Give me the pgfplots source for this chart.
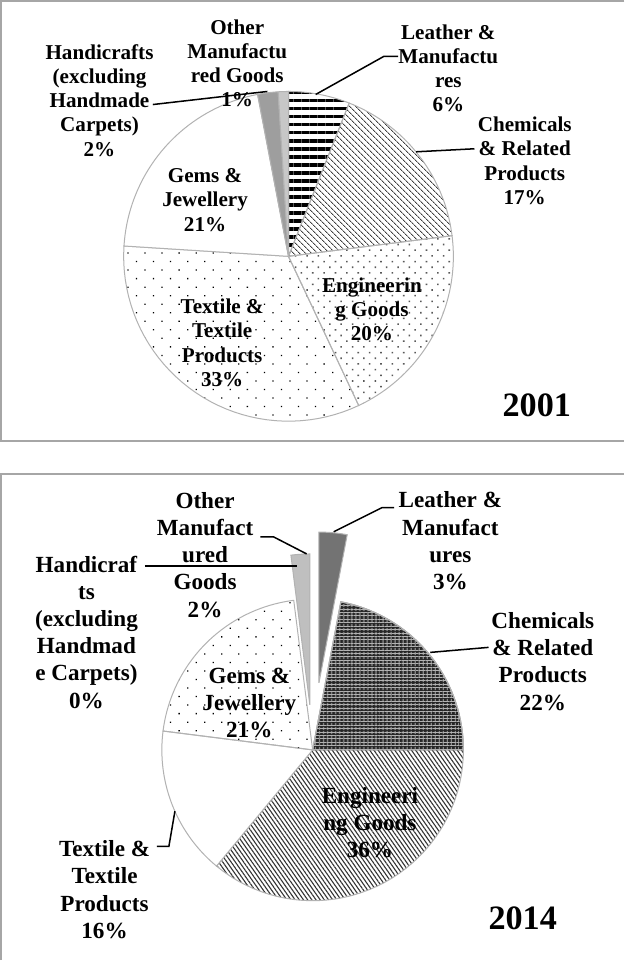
\documentclass[border=0pt]{standalone}
\usepackage{fontspec}
\setmainfont{Liberation Serif}
\usepackage{pgfplots}
\pgfplotsset{compat=1.18}
\usetikzlibrary{patterns,patterns.meta}

% #1 cx, #2 cy, #3 radius, #4 cumulative percent before slice, #5 slice percent, #6 style
\newcommand{\pieslice}[6]{%
  \pgfmathsetmacro\angA{90-3.6*(#4+#5)}%
  \pgfmathsetmacro\angB{90-3.6*(#4)}%
  \addplot[#6, domain=\angA:\angB, samples=41, variable=\t]
    ({#1+#3*cos(\t)},{#2-#3*sin(\t)}) -- (axis cs:#1,#2) -- cycle;}

\tikzset{
  edge/.style={draw=black!30, line width=1pt},
  labA/.style={align=center, font=\fontsize{21}{24}\selectfont\bfseries, inner sep=0pt},
  labB/.style={align=center, font=\fontsize{23}{27}\selectfont\bfseries, inner sep=0pt},
  yr/.style={font=\fontsize{34}{34}\selectfont\bfseries, inner sep=0pt},
  lead/.style={black, line width=1.5pt},
}

\begin{document}
\begin{tikzpicture}
\begin{axis}[
  width=629pt, height=961pt, scale only axis,
  xmin=0, xmax=629, ymin=0, ymax=961, y dir=reverse,
  axis lines=none, clip=false]

% panel borders
\draw[black!35, line width=2pt] (axis cs:629,7) -- (axis cs:9,7) -- (axis cs:9,445) -- (axis cs:629,445);
\draw[black!35, line width=2pt] (axis cs:9,961) -- (axis cs:9,478) -- (axis cs:629,478);

% ---------------- 2001 (shares in %) ----------------
% Leather 6, Chemicals 17, Engineering 20, Textile 33, Gems 21, Handicrafts 2, Other 1
\pieslice{295}{261}{164}{0}{6}{edge, pattern={Lines[angle=0,distance=8pt,line width=3.6pt]}, pattern color=black}
\pieslice{295}{261}{164}{6}{17}{edge, pattern={Lines[angle=-45,distance=4pt,line width=1pt]}, pattern color=black!75}
\pieslice{295}{261}{164}{23}{20}{edge, pattern={Dots[angle=45,distance=8pt,radius=1.1pt]}, pattern color=black!65}
\pieslice{295}{261}{164}{43}{33}{edge, pattern={Dots[angle=45,distance=12pt,radius=0.9pt]}, pattern color=black}
\pieslice{295}{261}{164}{76}{21}{edge, fill=white}
\pieslice{295}{261}{164}{97}{2}{edge, fill=black!38}
\pieslice{295}{261}{164}{99}{1}{edge, fill=black!22}

\node[labA] at (axis cs:244,69) {Other\\Manufactu\\red Goods\\1\%};
\node[labA] at (axis cs:107,106) {Handicrafts\\(excluding\\Handmade\\Carpets)\\2\%};
\node[labA] at (axis cs:454,74) {Leather \&\\Manufactu\\res\\6\%};
\node[labA] at (axis cs:530,166) {Chemicals\\\& Related\\Products\\17\%};
\node[labA] at (axis cs:212,205) {Gems \&\\Jewellery\\21\%};
\node[labA] at (axis cs:378,314) {Engineerin\\g Goods\\20\%};
\node[labA] at (axis cs:229,347) {Textile \&\\Textile\\Products\\33\%};
\node[yr] at (axis cs:542,409) {2001};

\draw[lead] (axis cs:322,100) -- (axis cs:390,62) -- (axis cs:404,62);
\draw[lead] (axis cs:422,157) -- (axis cs:480,154);
\draw[lead] (axis cs:160,110) -- (axis cs:256,99) -- (axis cs:274,97);

% ---------------- 2014 (shares in %) ----------------
% Leather 3, Chemicals 22, Engineering 36, Textile 16, Gems 21, Handicrafts 0, Other 2
\pieslice{325.3}{685.3}{150}{0}{3}{edge, fill=black!55}
\pieslice{319}{752}{150}{3}{22}{edge, fill=black!85}
\pieslice{319}{752}{150}{3}{22}{edge, pattern={Lines[angle=90,distance=4pt,line width=1.1pt]}, pattern color=black!45}
\pieslice{319}{752}{150}{3}{22}{edge, pattern={Lines[angle=0,distance=3.4pt,line width=0.7pt]}, pattern color=black!30}
\pieslice{319}{752}{150}{25}{36}{edge, pattern={Lines[angle=-55,distance=3.4pt,line width=1.1pt]}, pattern color=black!80}
\pieslice{319}{752}{150}{61}{16}{edge, fill=white}
\pieslice{319}{752}{150}{77}{21}{edge, pattern={Dots[angle=45,distance=12pt,radius=0.9pt]}, pattern color=black}
\pieslice{316.2}{707.1}{150}{98}{2}{edge, fill=black!25}

\node[labB] at (axis cs:212,558) {Other\\Manufact\\ured\\Goods\\2\%};
\node[labB] at (axis cs:94,635) {Handicraf\\ts\\(excluding\\Handmad\\e Carpets)\\0\%};
\node[labB] at (axis cs:456,544) {Leather \&\\Manufact\\ures\\3\%};
\node[labB] at (axis cs:548,664) {Chemicals\\\& Related\\Products\\22\%};
\node[labB] at (axis cs:256,705) {Gems \&\\Jewellery\\21\%};
\node[labB] at (axis cs:376,824) {Engineeri\\ng Goods\\36\%};
\node[labB] at (axis cs:112,891) {Textile \&\\Textile\\Products\\16\%};
\node[yr] at (axis cs:528,920) {2014};

\draw[lead] (axis cs:340,535) -- (axis cs:388,511) -- (axis cs:400,511);
\draw[lead] (axis cs:313,557) -- (axis cs:280,540) -- (axis cs:267,540);
\draw[lead] (axis cs:152,569) -- (axis cs:303,569);
\draw[lead] (axis cs:436,655) -- (axis cs:494,650);
\draw[lead] (axis cs:182,813) -- (axis cs:176,848) -- (axis cs:164,848);

\end{axis}
\end{tikzpicture}
\end{document}
